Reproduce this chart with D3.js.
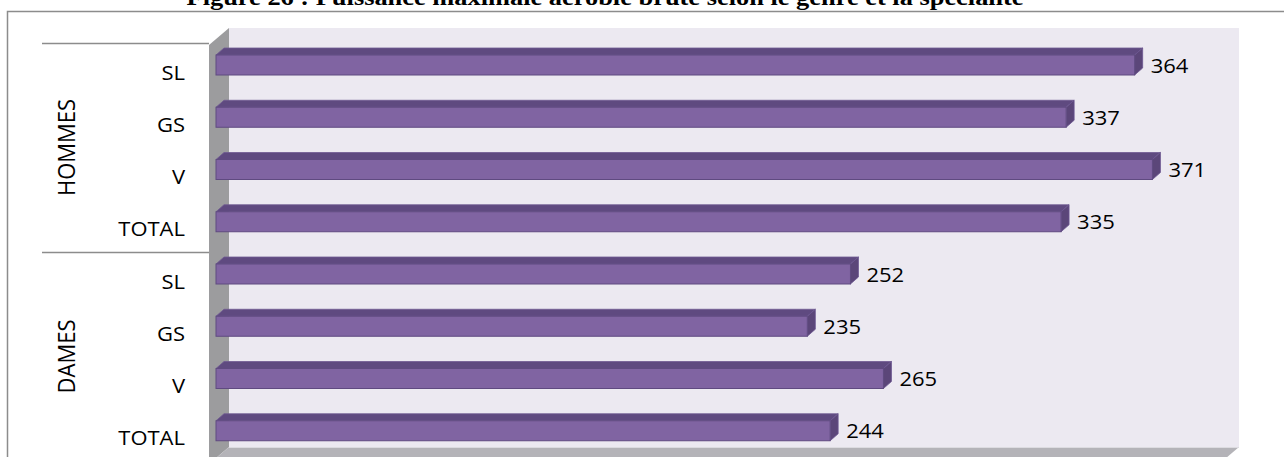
<!DOCTYPE html>
<html>
<head>
<meta charset="utf-8">
<script src="https://cdn.jsdelivr.net/npm/d3@7"></script>
<style>
	body { margin: 0; background: #fff; }
	svg { display: block; }
	.cat, .val { font-family: "Open Sans", sans-serif; font-size: 20px; fill: #000; }
	.grp { font-family: "Open Sans", sans-serif; font-size: 22px; fill: #000; }
	.title { font-family: "Liberation Serif", serif; font-weight: bold; font-size: 24px; fill: #000; }
</style>
</head>
<body>
<script>
//chart values
var groups = ["HOMMES", "DAMES"];
var categories = ["SL", "GS", "V", "TOTAL"];
var hommes = [364, 337, 371, 335];
var dames = [252, 235, 265, 244];
var title = "Figure 26 : Puissance maximale aérobie brute selon le genre et la spécialité";

window.onload = setChart();

function setChart(){
	var width = 1284,
		height = 457;

	var svg = d3.select("body")
		.append("svg")
		.attr("width", width)
		.attr("height", height);

	//flatten the two groups into rows
	var rows = [];
	groups.forEach(function(g, gi){
		var vals = gi == 0 ? hommes : dames;
		categories.forEach(function(c, ci){
			rows.push({group: g, cat: c, value: vals[ci], id: g + "-" + c});
		});
	});

	//3d depth of the bars and of the walls
	var dx = 8, dy = 7, wall = 20;

	var x = d3.scaleLinear()
		.domain([0, 400])
		.range([211, 1226]);

	var y = d3.scaleBand()
		.domain(rows.map(function(d){ return d.id; }))
		.range([43, 461]);

	var gy = d3.scaleBand()
		.domain(groups)
		.range([43, 461]);

	//outer frame
	svg.append("path")
		.attr("d", "M7.5," + height + "V11.5H" + width)
		.attr("fill", "none")
		.attr("stroke", "#8c8c8c")
		.attr("stroke-width", 1.5);

	//title (clipped at the top like the source)
	svg.append("text")
		.attr("class", "title")
		.attr("text-anchor", "middle")
		.attr("transform", "translate(605,5) scale(1.1,1)")
		.text(title);

	//walls
	var wx0 = 229, wx1 = 1239, wy0 = 28, wy1 = 447;
	svg.append("rect")
		.attr("x", wx0).attr("y", wy0)
		.attr("width", wx1 - wx0).attr("height", wy1 - wy0)
		.attr("fill", "#ece9f1");
	svg.append("path")
		.attr("d", "M" + (wx0 - wall) + "," + (wy0 + 17) + "L" + wx0 + "," + wy0 + "V" + wy1 + "L" + (wx0 - wall) + "," + (wy1 + 17) + "Z")
		.attr("fill", "#9c9c9e");
	svg.append("path")
		.attr("d", "M" + (wx0 - wall) + "," + (wy1 + 17) + "L" + wx0 + "," + wy1 + "H" + wx1 + "L" + (wx1 - wall) + "," + (wy1 + 17) + "Z")
		.attr("fill", "#b4b3b8");
	svg.append("line")
		.attr("x1", wx0).attr("x2", wx1)
		.attr("y1", wy1 + 0.5).attr("y2", wy1 + 0.5)
		.attr("stroke", "#dcdbe0");

	//bars
	var bars = svg.selectAll(".bar")
		.data(rows)
		.enter()
		.append("g")
		.attr("class", "bar");

	var x0 = x(0) + 5;
	bars.append("path") //top face
		.attr("d", function(d){
			var t = y(d.id) + 12;
			return "M" + x0 + "," + t + "L" + (x0 + dx) + "," + (t - dy) + "H" + (x(d.value) + dx) + "L" + x(d.value) + "," + t + "Z";
		})
		.attr("fill", "#5f4a80")
		.attr("stroke", "#705a92")
		.attr("stroke-width", 0.8);
	bars.append("path") //side face
		.attr("d", function(d){
			var t = y(d.id) + 12;
			return "M" + x(d.value) + "," + t + "L" + (x(d.value) + dx) + "," + (t - dy) + "V" + (t - dy + 20) + "L" + x(d.value) + "," + (t + 20) + "Z";
		})
		.attr("fill", "#5b4679")
		.attr("stroke", "#6b5690")
		.attr("stroke-width", 0.8);
	bars.append("rect") //front face
		.attr("x", x0)
		.attr("y", function(d){ return y(d.id) + 12; })
		.attr("width", function(d){ return x(d.value) - x0; })
		.attr("height", 20)
		.attr("fill", "#8064a2")
		.attr("stroke", "#5f4a80")
		.attr("stroke-width", 1);

	//value labels
	svg.selectAll(".val")
		.data(rows)
		.enter()
		.append("text")
		.attr("class", "val")
		.attr("dominant-baseline", "central")
		.attr("transform", function(d){
			return "translate(" + (x(d.value) + dx + 8) + "," + (y(d.id) + 22) + ") scale(1.1,1)";
		})
		.text(function(d){ return d.value; });

	//category labels
	svg.selectAll(".cat")
		.data(rows)
		.enter()
		.append("text")
		.attr("class", "cat")
		.attr("text-anchor", "end")
		.attr("dominant-baseline", "central")
		.attr("transform", function(d){
			return "translate(185," + (y(d.id) + y.bandwidth() / 2 + 3) + ") scale(1.1,1)";
		})
		.text(function(d){ return d.cat; });

	//group lines and labels
	svg.selectAll(".gline")
		.data(groups.concat(["end"]))
		.enter()
		.append("line")
		.attr("x1", 42).attr("x2", wx0 - wall)
		.attr("y1", function(d, i){ return 43 + i * gy.step() + 0.5; })
		.attr("y2", function(d, i){ return 43 + i * gy.step() + 0.5; })
		.attr("stroke", "#8c8c8c")
		.attr("stroke-width", 1.5);

	svg.selectAll(".grp")
		.data(groups)
		.enter()
		.append("text")
		.attr("class", "grp")
		.attr("text-anchor", "middle")
		.attr("dominant-baseline", "central")
		.attr("transform", function(d){
			return "translate(66," + (gy(d) + gy.bandwidth() / 2) + ") rotate(-90) scale(1,1.1)";
		})
		.text(function(d){ return d; });
};
</script>
</body>
</html>
